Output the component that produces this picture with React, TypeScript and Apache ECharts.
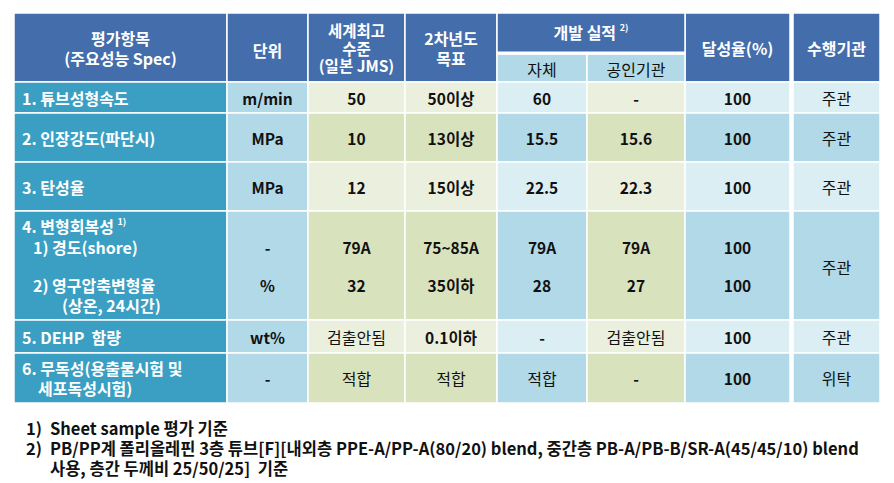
import React, { useEffect, useRef } from "react";
import * as echarts from "echarts";

// ---------- data ----------
const headerLabels = ["평가항목\n(주요성능 Spec)", "단위", "세계최고\n수준\n(일본 JMS)", "2차년도\n목표", "개발 실적", "달성율(%)", "수행기관"];
const devSubHeaders = ["자체", "공인기관"];
const itemLabels = [
  ["1. 튜브성형속도"],
  ["2. 인장강도(파단시)"],
  ["3. 탄성율"],
  ["4. 변형회복성", "1) 경도(shore)", "2) 영구압축변형율", "(상온, 24시간)"],
  ["5. DEHP  함량"],
  ["6. 무독성(용출물시험 및", "세포독성시험)"],
];
// value lines (row 4 has two lines: 경도 / 영구압축변형율)
const units = ["m/min", "MPa", "MPa", "-", "%", "wt%", "-"];
const worldBest = ["50", "10", "12", "79A", "32", "검출안됨", "적합"];
const secondYearTarget = ["50이상", "13이상", "15이상", "75~85A", "35이하", "0.1이하", "적합"];
const devSelf = ["60", "15.5", "22.5", "79A", "28", "-", "적합"];
const devCertified = ["-", "15.6", "22.3", "79A", "27", "검출안됨", "-"];
const achievement = ["100", "100", "100", "100", "100", "100", "100"];
const performer = ["주관", "주관", "주관", "주관", "주관", "위탁"]; // per row (row 4 merged)
const footnotes = [
  ["1)", "Sheet sample 평가 기준"],
  ["2)", "PB/PP계 폴리올레핀 3층 튜브[F][내외층 PPE-A/PP-A(80/20) blend, 중간층 PB-A/PB-B/SR-A(45/45/10) blend"],
  ["", "사용, 층간 두께비 25/50/25]  기준"],
];

// ---------- layout ----------
const FONT = '"Noto Sans CJK KR", "Noto Sans", sans-serif';
const COLX = [14, 227, 308, 405, 497, 587, 685, 790, 793, 880];
const TOP = 13, MID = 53, HEAD_BOT = 82;
const ROW_EDGES = [82, 113, 162, 211, 320, 353, 403];
const LINE_Y = [97.5, 137.5, 186.5, 247, 285, 336.5, 378];

const C = {
  head: "#446DAC",
  teal: "#3A9FC2",
  blueD: "#B1D9E7",
  blueL: "#DBEEF4",
  greenD: "#D8E3BE",
  greenL: "#EBEFDD",
  text: "#111111",
};

function rect(x: number, y: number, w: number, h: number, fill: string, lw = 1.5) {
  return { type: "rect", shape: { x, y, width: w, height: h }, style: { fill, stroke: "#ffffff", lineWidth: lw }, silent: true };
}
function txt(x: number, y: number, text: string, o: any = {}) {
  return {
    type: "text",
    x,
    y,
    silent: true,
    style: {
      text,
      fill: o.fill || C.text,
      fontSize: o.size || 15.5,
      fontWeight: o.weight || "bold",
      fontFamily: FONT,
      align: o.align || "center",
      verticalAlign: "middle",
      lineHeight: o.lh || 18,
      rich: o.rich,
    },
  };
}

const supStyle = (fill: string) => ({ sup: { fontSize: 9, fontWeight: "bold", fill, fontFamily: FONT, verticalAlign: "top", padding: [0, 0, 8, 0] } });

function buildGraphic() {
  const g: any[] = [];
  const colL = (i: number) => (i < 7 ? COLX[i] : COLX[8]);
  const colR = (i: number) => (i < 7 ? COLX[i + 1] : COLX[9]);
  const colC = (i: number) => (colL(i) + colR(i)) / 2;

  // header
  [0, 1, 2, 3, 6, 7].forEach((ci) => g.push(rect(colL(ci), TOP, colR(ci) - colL(ci), HEAD_BOT - TOP, C.head)));
  g.push(rect(COLX[4], TOP, COLX[6] - COLX[4], MID - TOP, C.head));
  g.push(rect(COLX[4], MID + 1, COLX[5] - COLX[4], HEAD_BOT - MID - 1, C.blueD));
  g.push(rect(COLX[5], MID + 1, COLX[6] - COLX[5], HEAD_BOT - MID - 1, C.blueD));
  g.push({ type: "line", shape: { x1: COLX[4], y1: MID, x2: COLX[6], y2: MID }, style: { stroke: "#fff", lineWidth: 3 }, silent: true });

  const hw = { fill: "#ffffff", weight: "bold", size: 16 };
  g.push(txt(colC(0), 48, headerLabels[0], { ...hw, lh: 20 }));
  g.push(txt(colC(1), 50, headerLabels[1], hw));
  g.push(txt(colC(2), 47.5, headerLabels[2], { ...hw, size: 15.5, lh: 17.5 }));
  g.push(txt(colC(3), 48, headerLabels[3], { ...hw, lh: 20 }));
  g.push(txt((COLX[4] + COLX[6]) / 2, 32, headerLabels[4] + " {sup|2)}", { ...hw, rich: supStyle("#fff") }));
  g.push(txt(colC(4), 69, devSubHeaders[0], { weight: "normal", size: 16 }));
  g.push(txt(colC(5), 69, devSubHeaders[1], { weight: "normal", size: 16 }));
  g.push(txt(colC(6), 48, headerLabels[5], hw));
  g.push(txt(colC(7), 48, headerLabels[6], hw));

  // body cells
  const colKind = ["teal", "unit", "g", "g", "b", "g", "b", "b"];
  for (let r = 0; r < 6; r++) {
    const y0 = ROW_EDGES[r], y1 = ROW_EDGES[r + 1];
    const light = r % 2 === 0;
    for (let ci = 0; ci < 8; ci++) {
      let fill = C.teal;
      if (colKind[ci] === "unit") fill = C.blueD;
      else if (colKind[ci] === "g") fill = light ? C.greenL : C.greenD;
      else if (colKind[ci] === "b") fill = light ? C.blueL : C.blueD;
      g.push(rect(colL(ci), y0, colR(ci) - colL(ci), y1 - y0, fill));
    }
  }

  // first column labels
  const tw = { fill: "#ffffff", align: "left", weight: "bold", size: 16 };
  g.push(txt(22, LINE_Y[0], itemLabels[0][0], tw));
  g.push(txt(22, LINE_Y[1], itemLabels[1][0], tw));
  g.push(txt(22, LINE_Y[2], itemLabels[2][0], tw));
  g.push(txt(22, LINE_Y[5], itemLabels[4][0], tw));
  g.push(txt(22, 226, itemLabels[3][0] + " {sup|1)}", { ...tw, rich: supStyle("#fff") }));
  g.push(txt(33, 247, itemLabels[3][1], tw));
  g.push(txt(33, 285, itemLabels[3][2], tw));
  g.push(txt(62, 305, itemLabels[3][3], tw));
  g.push(txt(22, 368, itemLabels[5][0], tw));
  g.push(txt(38, 388, itemLabels[5][1], tw));

  // value columns
  const isKo = (s: string) => /^[가-힣]+$/.test(s);
  const cols = [units, worldBest, secondYearTarget, devSelf, devCertified, achievement];
  cols.forEach((arr, k) => {
    const ci = k + 1;
    arr.forEach((v, li) => {
      g.push(txt(colC(ci), LINE_Y[li], v, { weight: isKo(v) ? "normal" : "bold", size: isKo(v) ? 16 : 15.5 }));
    });
  });
  // performer column (row 4 merged)
  performer.forEach((v, r) => {
    const y = (ROW_EDGES[r] + ROW_EDGES[r + 1]) / 2 + (r === 3 ? 1 : 0);
    g.push(txt(colC(7), y, v, { weight: "normal", size: 16 }));
  });

  // footnotes
  const fy = [428, 448, 468];
  footnotes.forEach((fn, i) => {
    if (fn[0]) g.push(txt(26, fy[i], fn[0], { align: "left", size: 16.5, lh: 18 }));
    g.push(txt(50, fy[i], fn[1], { align: "left", size: 16.5, lh: 18 }));
  });
  return g;
}

export default function App() {
  const ref = useRef<HTMLDivElement>(null);
  useEffect(() => {
    if (!ref.current) return;
    const chart = echarts.init(ref.current, undefined, { renderer: "svg" });
    chart.setOption({
      animation: false,
      backgroundColor: "#ffffff",
      graphic: { elements: buildGraphic() },
    });
    return () => chart.dispose();
  }, []);
  return <div ref={ref} style={{ position: "fixed", left: 0, top: 0, width: 894, height: 483 }} />;
}
